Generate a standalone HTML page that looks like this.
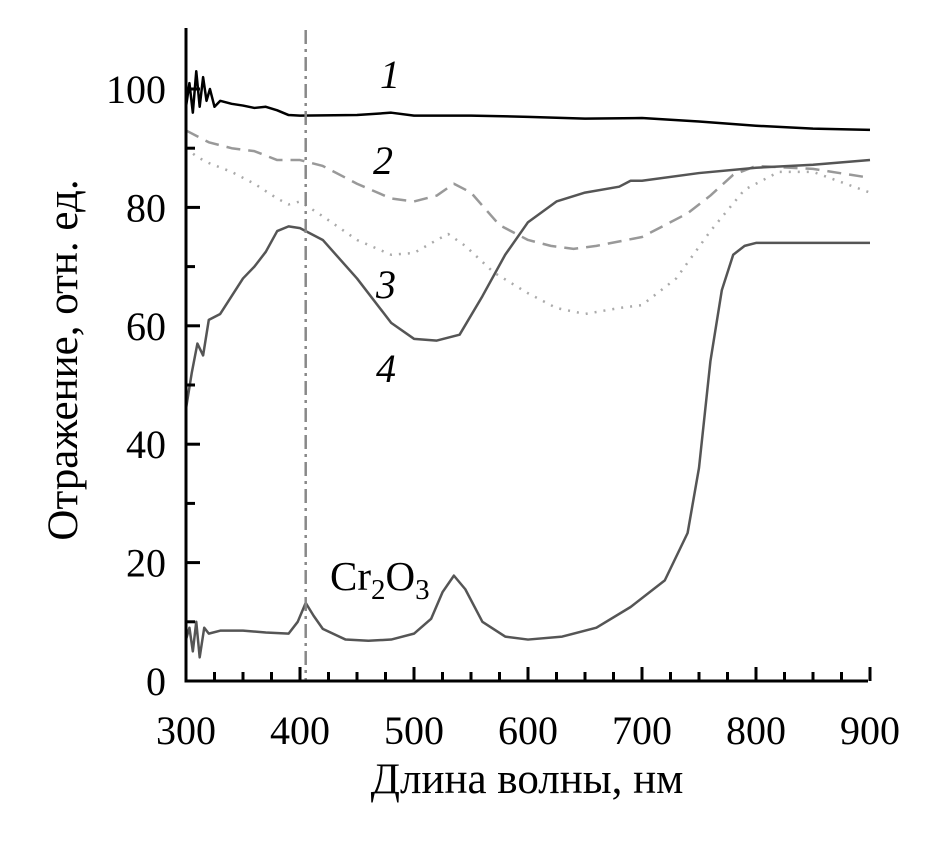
<!DOCTYPE html>
<html><head><meta charset="utf-8"><style>
body{margin:0;background:#fff}
svg text{font-family:"Liberation Serif",serif;fill:#000}
</style></head><body>
<svg id="chart" width="934" height="847" viewBox="0 0 934 847" xmlns="http://www.w3.org/2000/svg">
<g id="marks"></g>
<g id="axes"></g>
<text transform="translate(77,360) rotate(-90)" text-anchor="middle" font-size="43">Отражение, отн. ед.</text>
<text x="527" y="793" text-anchor="middle" font-size="43">Длина волны, нм</text>
<text x="390" y="88" font-size="40" font-style="italic" text-anchor="middle">1</text>
<text x="383" y="174" font-size="40" font-style="italic" text-anchor="middle">2</text>
<text x="386" y="298" font-size="40" font-style="italic" text-anchor="middle">3</text>
<text x="386" y="382" font-size="40" font-style="italic" text-anchor="middle">4</text>
<text x="330" y="590" font-size="41">Cr<tspan font-size="29" dy="9">2</tspan><tspan dy="-9">O</tspan><tspan font-size="29" dy="9">3</tspan></text>
</svg>
<script>
const xTicks=[300,400,500,600,700,800,900];
const yTicks=[0,20,40,60,80,100];
const c1x=[300,303,306,309,312,315,318,321,325,330,340,350,360,370,380,390,400,450,480,500,550,600,650,700,750,800,850,900];
const c1y=[97,101,96,103,97,102,98,100,97,98,97.5,97.2,96.8,97,96.4,95.6,95.5,95.6,96,95.5,95.5,95.3,95,95.1,94.5,93.8,93.3,93.1];
const c2x=[300,310,320,340,360,380,400,420,450,480,500,520,535,550,575,600,620,640,660,700,740,760,780,800,850,900];
const c2y=[93,92,91,90,89.5,88,88,87,84,81.5,81,82,84,82.5,77,74.5,73.5,73,73.5,75,79,82,85.5,87,86.5,85];
const c3x=[300,310,320,340,360,380,390,400,420,450,480,500,520,530,545,570,600,625,650,680,700,730,760,790,820,850,900];
const c3y=[90,88.5,87.5,86,84,81.5,80.5,81,78.5,74.5,72,72.3,74.5,75.5,73.5,69,65.5,63,62,63,63.5,68,76,83,86,86,82.5];
const c4x=[300,305,310,315,320,330,340,350,360,370,380,390,400,420,450,480,500,520,540,560,580,600,625,650,680,690,700,750,800,850,900];
const c4y=[46,52,57,55,61,62,65,68,70,72.5,76,76.8,76.5,74.5,68,60.5,57.8,57.5,58.5,65,72,77.5,81,82.5,83.5,84.5,84.5,85.8,86.7,87.2,88];
const c5x=[300,303,306,309,312,316,320,330,350,370,390,398,405,412,420,440,460,480,500,515,525,535,545,560,580,600,630,660,690,720,740,750,760,770,780,790,800,850,900];
const c5y=[7,9,5,10,4,9,8,8.5,8.5,8.2,8,10,13.2,11,8.8,7,6.8,7,8,10.5,15,17.8,15.5,10,7.5,7,7.5,9,12.5,17,25,36,54,66,72,73.5,74,74,74];
const X=w=>186+(w-300)*1.14;
const Y=v=>681-v*5.92;
const NS="http://www.w3.org/2000/svg";
const marks=document.getElementById('marks'),axes=document.getElementById('axes');
function line(xs,ys,col,w,dash,name){
 const p=document.createElementNS(NS,'polyline');
 p.setAttribute('points',xs.map((x,i)=>X(x)+','+Y(ys[i])).join(' '));
 p.setAttribute('fill','none');p.setAttribute('stroke',col);p.setAttribute('stroke-width',w);
 p.setAttribute('stroke-linejoin','round');
 if(dash)p.setAttribute('stroke-dasharray',dash);
 
 
 marks.appendChild(p);
}
line(c2x,c2y,'#999',2.5,'14 8','series-2');
line(c3x,c3y,'#aaa',2.5,'2 7','series-3');
line(c4x,c4y,'#555',2.5,null,'series-4');
line(c5x,c5y,'#555',2.5,null,'series-cr2o3');
line(c1x,c1y,'#000',2.5,null,'series-1');
const vl=document.createElementNS(NS,'line');
vl.setAttribute('x1',X(405));vl.setAttribute('x2',X(405));vl.setAttribute('y1',30);vl.setAttribute('y2',681);
vl.setAttribute('stroke','#888');vl.setAttribute('stroke-width',2.5);vl.setAttribute('stroke-dasharray','14 5 3 5');


marks.appendChild(vl);
function seg(x1,y1,x2,y2,name){const l=document.createElementNS(NS,'line');
 l.setAttribute('x1',x1);l.setAttribute('y1',y1);l.setAttribute('x2',x2);l.setAttribute('y2',y2);
 l.setAttribute('stroke','#000');l.setAttribute('stroke-width',3);
 
 
 axes.appendChild(l);}
seg(186,28,186,682.5,'y-axis');
seg(184.5,681,868,681,'x-axis');
for(let w=325;w<=900;w+=25){const major=(w%100===0);seg(X(w),681,X(w),681-(major?14:9),'x-tick');}
for(let v=10;v<=100;v+=10){const major=(v%20===0);seg(186,Y(v),186+(major?14:9),Y(v),'y-tick');}
xTicks.forEach(t=>{const e=document.createElementNS(NS,'text');e.setAttribute('x',X(t));e.setAttribute('y',744);
 e.setAttribute('text-anchor','middle');e.setAttribute('font-size',40);e.textContent=t;
 
 
 axes.appendChild(e);});
yTicks.forEach(t=>{const e=document.createElementNS(NS,'text');e.setAttribute('x',166);e.setAttribute('y',Y(t)+14);
 e.setAttribute('text-anchor','end');e.setAttribute('font-size',40);e.textContent=t;
 
 
 axes.appendChild(e);});
</script>
</body></html>
